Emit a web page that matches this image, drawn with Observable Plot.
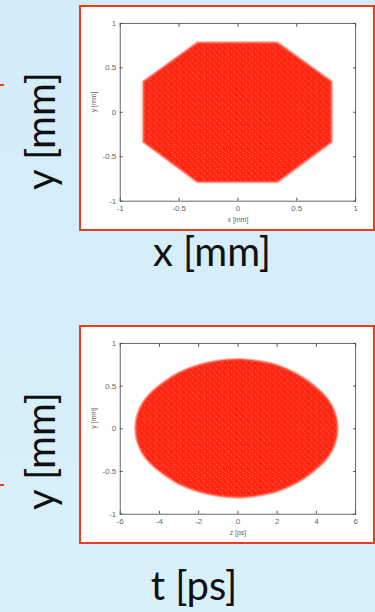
<!DOCTYPE html>
<html>
<head>
<meta charset="utf-8">
<script src="https://cdn.jsdelivr.net/npm/d3@7"></script>
<script src="https://cdn.jsdelivr.net/npm/@observablehq/plot@0.6"></script>
<style>
  html, body { margin: 0; padding: 0; }
  body { width: 375px; height: 612px; overflow: hidden; position: relative;
         background: linear-gradient(180deg, #d3ecf8 0%, #d9f0fa 100%); font-family: Lato, sans-serif; }
  .panel { position: absolute; background: #fff; border: 2px solid #f03c1e; box-sizing: border-box; overflow: hidden; }
  .panel svg { position: absolute; left: 0; top: 0; }
  .big { position: absolute; font-family: Lato, sans-serif; font-size: 40px; color: #111; white-space: nowrap; line-height: 1; }
  .rot { transform: translate(-50%, -50%) rotate(-90deg); }
  .hor { transform: translate(-50%, -50%); }
  .dash { position: absolute; left: 0; width: 4px; height: 2px; background: #f03c1e; }
</style>
</head>
<body>
<div class="dash" style="top:84px"></div>
<div class="dash" style="top:484px"></div>
<div class="panel" id="p1" style="left:79px; top:5px; width:296px; height:226px;"></div>
<div class="panel" id="p2" style="left:79px; top:325px; width:296px; height:219px;"></div>
<div class="big rot" style="left:40px; top:131px;">y [mm]</div>
<div class="big hor" style="left:212px; top:251px;">x [mm]</div>
<div class="big rot" style="left:40px; top:451px;">y [mm]</div>
<div class="big hor" style="left:194px; top:585px;">t [ps]</div>
<script>
// ---- data ----
const xyTicks = [-1, -0.5, 0, 0.5, 1];
const tTicks = [-6, -4, -2, 0, 2, 4, 6];

// x–y distribution outline (octagon): x position, upper and lower edge of the particle cloud
const octX      = [-0.80, -0.34, 0.34, 0.80];
const octTop    = [ 0.34,  0.78, 0.78, 0.34];
const octBottom = [-0.34, -0.79, -0.79, -0.34];

// t–y distribution outline (ellipse): time position, upper and lower edge
const ellT      = [-5.20, -5.17, -5.10, -4.90, -4.60, -4.10, -3.50, -3.00, -2.00, -1.00, 0.00, 1.00, 2.00, 3.00, 3.50, 4.00, 4.50, 4.80, 5.00, 5.07, 5.10];
const ellTop    = [ 0.00,  0.09,  0.16,  0.27,  0.37,  0.48,  0.58,  0.65,  0.74,  0.79, 0.81, 0.79, 0.74, 0.64, 0.57, 0.48, 0.37, 0.27, 0.16, 0.09, 0.00];
const ellBottom = [ 0.00, -0.09, -0.16, -0.27, -0.37, -0.48, -0.58, -0.65, -0.74, -0.79, -0.81, -0.79, -0.74, -0.64, -0.57, -0.48, -0.37, -0.27, -0.16, -0.09, 0.00];

const octRows = octX.map((x, i) => ({x, top: octTop[i], bottom: octBottom[i]}));
const ellRows = ellT.map((t, i) => ({x: t, top: ellTop[i], bottom: ellBottom[i]}));

const fmt = d => String(d);
const cloud = "#ff2612";

function panel(rows, xDomain, xTicks, xLabel, curve, w, h, mb, id) {
  const svg = Plot.plot({
    width: w, height: h,
    marginLeft: 39, marginRight: w - 39 - 237, marginTop: 16, marginBottom: mb,
    style: {background: "transparent", fontFamily: "'Liberation Sans', Arial, sans-serif", fontSize: "8px", color: "#666"},
    x: {domain: xDomain, ticks: xTicks, tickFormat: fmt},
    y: {domain: [-1, 1], ticks: xyTicks, tickFormat: fmt},
    marks: [
      Plot.areaY(rows, {x: "x", y1: "bottom", y2: "top", fill: cloud, stroke: "#ff6a58", strokeWidth: 2.5, strokeOpacity: 0.6, curve, className: "cloud"}),
      Plot.frame({stroke: "#555", strokeWidth: 0.9}),
      Plot.axisX(xTicks, {anchor: "bottom", tickSize: -3, tickPadding: 7, stroke: "#555", fill: "#666", label: null, tickFormat: fmt}),
      Plot.axisX(xTicks, {anchor: "top", tickSize: -3, stroke: "#555", label: null, tickFormat: () => ""}),
      Plot.axisY(xyTicks, {anchor: "left", tickSize: -3, tickPadding: 7, stroke: "#555", fill: "#666", label: null, tickFormat: fmt}),
      Plot.axisY(xyTicks, {anchor: "right", tickSize: -3, stroke: "#555", label: null, tickFormat: () => ""}),
      Plot.text([xLabel], {frameAnchor: "bottom", dy: 21, text: d => d, fill: "#666", fontSize: 7}),
      Plot.text(["y [mm]"], {frameAnchor: "left", dx: -27, rotate: -90, text: d => d, fill: "#666", fontSize: 7})
    ]
  });
  // speckled texture of the particle cloud
  const ns = "http://www.w3.org/2000/svg";
  const defs = document.createElementNS(ns, "defs");
  defs.innerHTML = `<pattern id="sp${id}" width="6" height="6" patternUnits="userSpaceOnUse">
      <rect width="6" height="6" fill="${cloud}"/>
      <rect x="1" y="2" width="1" height="1" fill="#ff8a70" opacity="0.8"/>
      <rect x="4" y="0" width="1" height="1" fill="#ff9a80" opacity="0.6"/>
      <rect x="3" y="4" width="1" height="1" fill="#ff7a62" opacity="0.7"/>
      <rect x="0" y="5" width="1" height="1" fill="#e01008" opacity="0.6"/>
    </pattern>`;
  svg.insertBefore(defs, svg.firstChild);
  svg.querySelectorAll(".cloud path").forEach(p => p.setAttribute("fill", `url(#sp${id})`));
  return svg;
}

document.getElementById("p1").appendChild(
  panel(octRows, [-1, 1], xyTicks, "x [mm]", "linear", 294, 222, 27, 1));
document.getElementById("p2").appendChild(
  panel(ellRows, [-6, 6], tTicks, "z [ps]", "catmull-rom", 294, 215, 27, 2));
</script>
</body>
</html>
